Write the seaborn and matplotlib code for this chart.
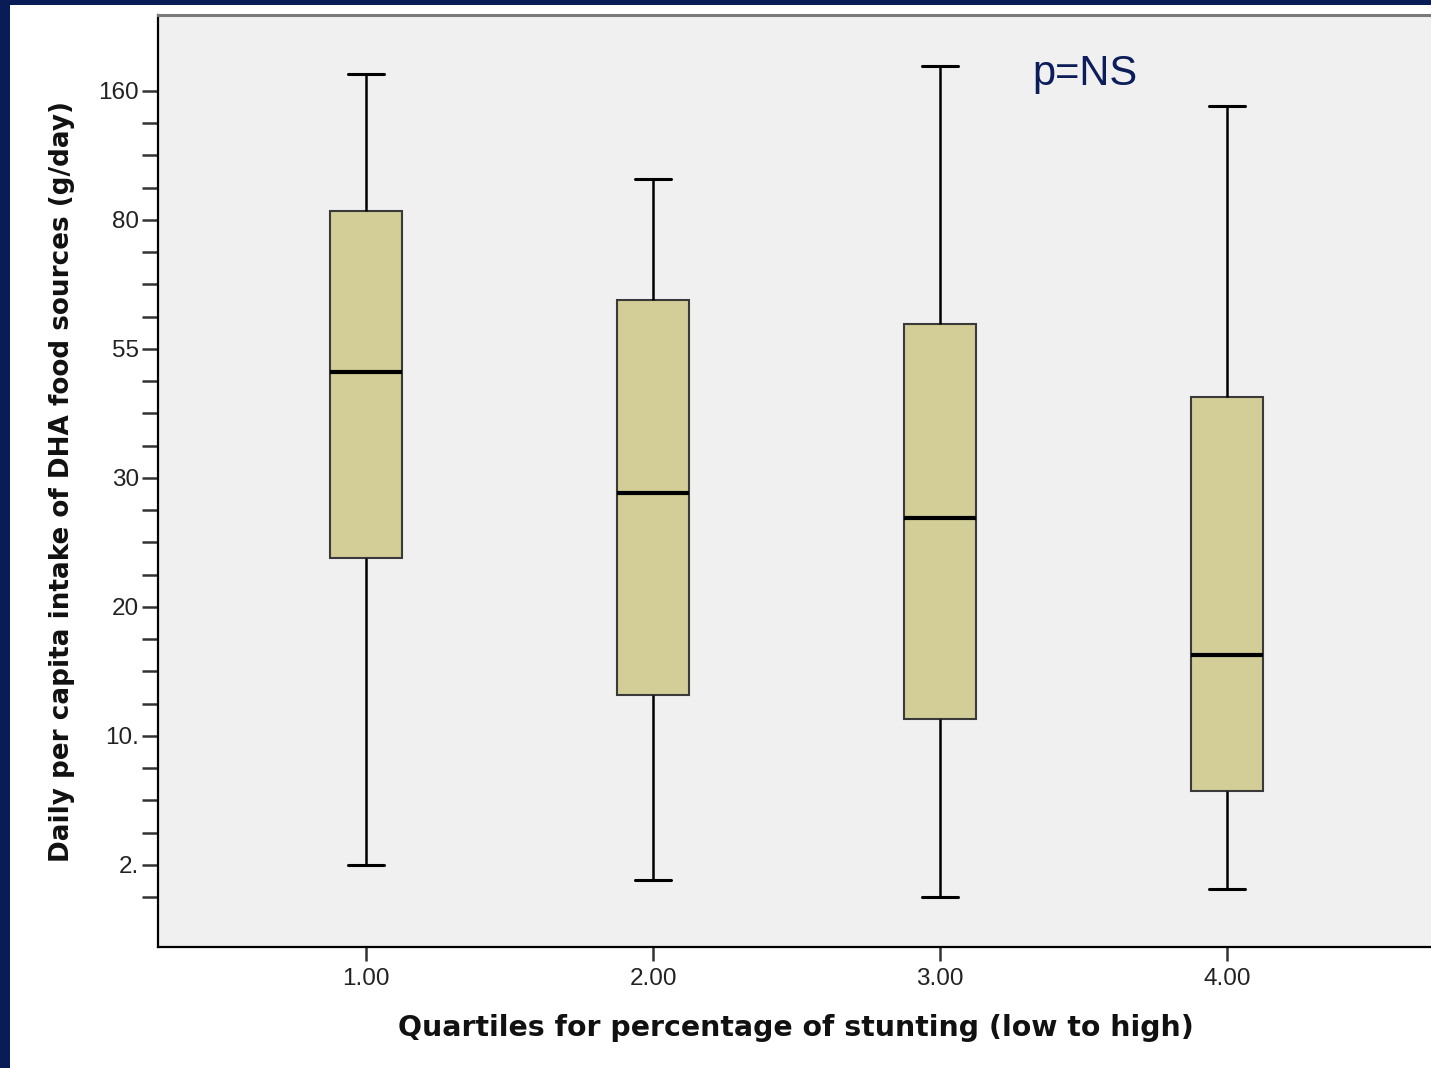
import numpy as np
import pandas as pd
import matplotlib
matplotlib.use("Agg")
import matplotlib.pyplot as plt
import seaborn as sns
from matplotlib.patches import Rectangle
from matplotlib.ticker import FixedLocator

# Categories (x) and tick labels
quartile_labels = ["1.00", "2.00", "3.00", "4.00"]
y_tick_labels = ["2.", "10.", "20", "30", "55", "80", "160"]

# Five-number summaries per quartile in axis units (min, Q1, median, Q3, max)
q1_values = [0.00, 2.38, 3.82, 5.07, 6.13]
q2_values = [-0.12, 1.32, 2.88, 4.38, 5.32]
q3_values = [-0.25, 1.13, 2.69, 4.19, 6.19]
q4_values = [-0.19, 0.57, 1.63, 3.63, 5.88]

annotation = "p=NS"
x_title = "Quartiles for percentage of stunting (low to high)"
y_title = "Daily per capita intake of DHA food sources (g/day)"

df = pd.DataFrame({
    "quartile": np.repeat(quartile_labels, 5),
    "value": q1_values + q2_values + q3_values + q4_values,
})

sns.set_style("ticks")
plt.rcParams["font.family"] = ["Liberation Sans", "DejaVu Sans"]

W, H, DPI = 1431, 1068, 100
fig = plt.figure(figsize=(W / DPI, H / DPI), dpi=DPI, facecolor="white")
ax = fig.add_axes([158 / W, 1 - 947 / H, (1434 - 158) / W, (947 - 15) / H])
ax.set_facecolor("#f0f0f0")

sns.boxplot(
    data=df, x="quartile", y="value", order=quartile_labels, ax=ax,
    whis=np.inf, width=0.25, color="#d3ce97", saturation=1,
    linecolor="#3a3a3a", linewidth=1.5,
    medianprops=dict(color="black", linewidth=3),
    whiskerprops=dict(color="black", linewidth=1.8),
    capprops=dict(color="black", linewidth=2.2),
    showfliers=False,
)

ax.set_xlim(-0.725, 3.721)
ax.set_ylim(-0.636, 6.589)

ax.yaxis.set_major_locator(FixedLocator(np.arange(len(y_tick_labels))))
ax.set_yticklabels(y_tick_labels)
ax.yaxis.set_minor_locator(FixedLocator(np.arange(-0.25, len(y_tick_labels) - 0.9, 0.25)))

ax.tick_params(axis="y", which="both", length=11.5, width=1.8, color="#333333",
               direction="out", pad=2, labelsize=17.5, labelcolor="#222222")
ax.tick_params(axis="x", which="major", length=10, width=1.8, color="#333333",
               direction="out", pad=5, labelsize=17.5, labelcolor="#222222")

for side in ["left", "bottom"]:
    ax.spines[side].set_color("black")
    ax.spines[side].set_linewidth(1.6)
ax.spines["top"].set_color("#7a7a7a")
ax.spines["top"].set_linewidth(2.2)
ax.spines["right"].set_visible(False)

ax.set_xlabel(x_title, fontfamily="DejaVu Sans", fontweight="bold", fontsize=20.4, color="#111111")
ax.set_ylabel(y_title, fontfamily="DejaVu Sans", fontweight="bold", fontsize=18.9, color="#111111")
ax.xaxis.set_label_coords(0.5, -(1028 - 947) / 932)
ax.xaxis.label.set_va("center")
ax.yaxis.set_label_coords(-(158 - 62) / 1276, 0.5)
ax.yaxis.label.set_va("center")
ax.yaxis.label.set_ha("center")

ax.text(2.32, 6.05, annotation, fontsize=30, color="#0c1e5a",
        ha="left", va="baseline", fontfamily="Liberation Sans")

# navy slide border
navy = "#0a1c58"
fig.add_artist(Rectangle((0, 0), 10 / W, 1, transform=fig.transFigure,
                         facecolor=navy, edgecolor="none", zorder=10))
fig.add_artist(Rectangle((0, 1 - 5 / H), 1, 5 / H, transform=fig.transFigure,
                         facecolor=navy, edgecolor="none", zorder=10))

fig.savefig("out.png", dpi=DPI, facecolor="white")
